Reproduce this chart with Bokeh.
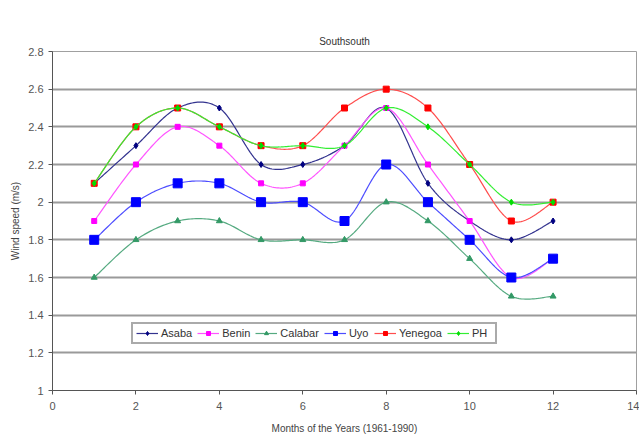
import numpy as np
from bokeh.plotting import figure
from bokeh.models import (FixedTicker, CustomJSTickFormatter, Legend, LegendItem,
                          Range1d, Title)
from bokeh.embed import file_html
from bokeh.resources import INLINE

# Monthly mean wind speed (m/s), 1961-1990
months = [1, 2, 3, 4, 5, 6, 7, 8, 9, 10, 11, 12]
asaba = [2.1, 2.3, 2.5, 2.5, 2.2, 2.2, 2.3, 2.5, 2.1, 1.9, 1.8, 1.9]
benin = [1.9, 2.2, 2.4, 2.3, 2.1, 2.1, 2.3, 2.5, 2.2, 1.9, 1.6, 1.7]
calabar = [1.6, 1.8, 1.9, 1.9, 1.8, 1.8, 1.8, 2.0, 1.9, 1.7, 1.5, 1.5]
uyo = [1.8, 2.0, 2.1, 2.1, 2.0, 2.0, 1.9, 2.2, 2.0, 1.8, 1.6, 1.7]
yenegoa = [2.1, 2.4, 2.5, 2.4, 2.3, 2.3, 2.5, 2.6, 2.5, 2.2, 1.9, 2.0]
ph = [2.1, 2.4, 2.5, 2.4, 2.3, 2.3, 2.3, 2.5, 2.4, 2.2, 2.0, 2.0]

y_ticks = [1.0, 1.2, 1.4, 1.6, 1.8, 2.0, 2.2, 2.4, 2.6, 2.8]
x_ticks = [0, 2, 4, 6, 8, 10, 12, 14]

FONT = "Liberation Sans"


def smooth(xs, ys, n=24):
    """Cardinal (Catmull-Rom style) Bezier smoothing through the points."""
    xs = np.asarray(xs, float)
    ys = np.asarray(ys, float)
    px = np.concatenate([[xs[0]], xs, [xs[-1]]])
    py = np.concatenate([[ys[0]], ys, [ys[-1]]])
    outx, outy = [], []
    t = np.linspace(0, 1, n)
    for i in range(1, len(px) - 2):
        p0x, p1x, p2x, p3x = px[i - 1], px[i], px[i + 1], px[i + 2]
        p0y, p1y, p2y, p3y = py[i - 1], py[i], py[i + 1], py[i + 2]
        c1x = p1x + (p2x - p0x) / 6
        c1y = p1y + (p2y - p0y) / 6
        c2x = p2x - (p3x - p1x) / 6
        c2y = p2y - (p3y - p1y) / 6
        b0 = (1 - t) ** 3
        b1 = 3 * (1 - t) ** 2 * t
        b2 = 3 * (1 - t) * t ** 2
        b3 = t ** 3
        outx.extend(b0 * p1x + b1 * c1x + b2 * c2x + b3 * p2x)
        outy.extend(b0 * p1y + b1 * c1y + b2 * c2y + b3 * p2y)
    return outx, outy


p = figure(width=639, height=436, output_backend="svg", toolbar_location=None,
           title_location=None,
           x_range=Range1d(0, 14), y_range=Range1d(1, 2.8),
           min_border_left=52, min_border_right=3, min_border_top=51,
           min_border_bottom=46, background_fill_color="white",
           border_fill_color="white")

# Title, followed by an invisible band that separates it from the plot area
p.add_layout(Title(text="Southsouth", align="center", text_font=FONT,
                   text_font_size="10px", text_font_style="normal",
                   text_color="#333333"), "above")
p.add_layout(Title(text=".", text_font=FONT, text_font_size="16px",
                   text_alpha=0), "above")

p.outline_line_color = "#a0a0a0"
p.outline_line_width = 1

p.xgrid.visible = False
p.ygrid.ticker = FixedTicker(ticks=y_ticks)
p.ygrid.grid_line_color = "#9a9a9a"
p.ygrid.grid_line_width = 2

for ax in (p.xaxis[0], p.yaxis[0]):
    ax.axis_line_color = "#555555"
    ax.major_tick_line_color = "#555555"
    ax.major_tick_out = 4
    ax.major_tick_in = 0
    ax.minor_tick_line_color = None
    ax.major_label_text_font = FONT
    ax.major_label_text_font_size = "11px"
    ax.major_label_text_color = "#555555"
    ax.axis_label_text_font = FONT
    ax.axis_label_text_font_size = "10px"
    ax.axis_label_text_font_style = "normal"
    ax.axis_label_text_color = "#444444"

p.yaxis.ticker = FixedTicker(ticks=y_ticks)
p.yaxis.formatter = CustomJSTickFormatter(
    code="return tick.toFixed(1).replace(/\\.0$/, '');")
p.yaxis.major_label_standoff = 5
p.yaxis.axis_label = "Wind speed (m/s)"
p.yaxis.axis_label_standoff = 4

p.xaxis.ticker = FixedTicker(ticks=x_ticks)
p.xaxis.major_label_standoff = 7
p.xaxis.axis_label = "Months of the Years (1961-1990)"
p.xaxis.axis_label_standoff = 10

series = [
    ("Asaba", asaba, "#000080", "#33338f", "diamond", 6),
    ("Benin", benin, "#ff00ff", "#ff55ff", "square", 5),
    ("Calabar", calabar, "#339966", "#55aa80", "triangle", 6),
    ("Uyo", uyo, "#0000ff", "#4d4dff", "square", 9),
    ("Yenegoa", yenegoa, "#ff0000", "#ff4d4d", "square", 6),
    ("PH", ph, "#00dd00", "#33ee33", "diamond", 6),
]

items = []
for name, vals, mcol, lcol, marker, size in series:
    sx, sy = smooth(months, vals)
    ln = p.line(sx, sy, line_color=lcol, line_width=1.2)
    sc = p.scatter(months, vals, marker=marker, size=size,
                   fill_color=mcol, line_color=mcol)
    items.append(LegendItem(label=name, renderers=[ln, sc]))

legend = Legend(items=items, orientation="horizontal", location=(79, 46),
                label_text_font=FONT, label_text_font_size="11px",
                label_text_color="#333333", glyph_width=22, glyph_height=10,
                label_standoff=3, spacing=5, padding=3, margin=0,
                border_line_color="#555555", border_line_width=2,
                background_fill_color="white", background_fill_alpha=1,
                label_height=12)
p.add_layout(legend, "center")

open("out.html", "w").write(file_html(p, INLINE))
